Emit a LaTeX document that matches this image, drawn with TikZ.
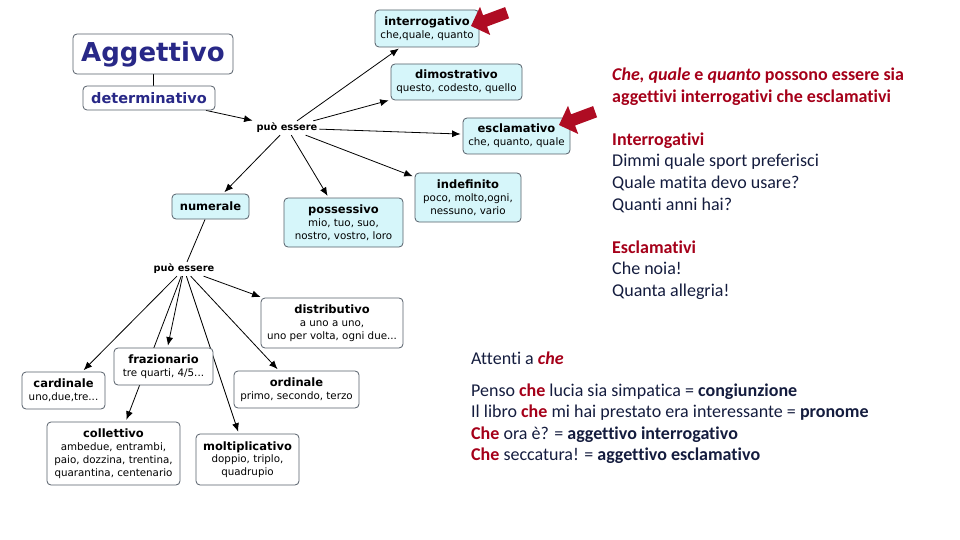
\documentclass[tikz,border=0pt]{standalone}
\usepackage{fontspec}
\setmainfont{Carlito}[Ligatures={NoCommon,NoRequired,NoContextual}]
\newfontfamily\dv{DejaVu Sans}
\usetikzlibrary{arrows.meta,backgrounds}
\definecolor{navy}{RGB}{20,28,62}
\definecolor{darkred}{RGB}{165,0,25}
\definecolor{arrred}{RGB}{175,12,35}
\definecolor{aggblue}{RGB}{40,40,135}
\definecolor{boxcyan}{RGB}{214,246,250}
\definecolor{boxline}{RGB}{85,95,105}
\newcommand\ttl[1]{{\bfseries\fontsize{11.5}{12.8}\selectfont #1}}
\tikzset{
  box/.style={draw=boxline, line width=0.8pt, rounded corners=4pt, fill=white,
    align=center, inner sep=0pt, font=\dv\fontsize{10.3}{12.8}\selectfont},
  cbox/.style={box, fill=boxcyan},
  pe/.style={font=\dv\bfseries\fontsize{9.8}{12}\selectfont, inner sep=2pt},
  arr/.style={-{Latex[length=8.5pt,width=7pt]}, line width=0.8pt, shorten >=2pt},
  ln/.style={line width=0.8pt},
  txt/.style={anchor=base west, inner sep=0pt, font=\fontsize{18}{21.5}\selectfont, text=navy},
  redtxt/.style={txt, text=darkred, font=\bfseries\fontsize{18}{21.5}\selectfont},
}
\begin{document}
\begin{tikzpicture}[x=1pt,y=-1pt]
\useasboundingbox (0,0) rectangle (960,540);
% left concept map
\node[box, minimum width=160pt, minimum height=40pt, text=aggblue,
  font=\dv\bfseries\fontsize{26}{30}\selectfont] (agg) at (153,54) {Aggettivo};
\node[box, minimum width=132pt, minimum height=24pt, text=aggblue,
  font=\dv\bfseries\fontsize{14.5}{17}\selectfont] (det) at (149,98) {determinativo};
\node[pe] (pe1) at (287,128) {può essere};
\node[cbox, minimum width=104pt, minimum height=37pt] (interr) at (427,28.5) {\ttl{interrogativo}\\che,quale, quanto};
\node[cbox, minimum width=131pt, minimum height=36pt] (dimo) at (456.5,82) {\ttl{dimostrativo}\\questo, codesto, quello};
\node[cbox, minimum width=107pt, minimum height=36pt] (escl) at (516.5,136) {\ttl{esclamativo}\\che, quanto, quale};
\node[cbox, minimum width=106pt, minimum height=49pt] (indef) at (468,197.5) {\ttl{indefinito}\\poco, molto,ogni,\\nessuno, vario};
\node[cbox, minimum width=119pt, minimum height=49pt] (poss) at (343.5,222.5) {\ttl{possessivo}\\mio, tuo, suo,\\nostro, vostro, loro};
\node[cbox, minimum width=77pt, minimum height=25pt] (num) at (210.5,206.5) {\ttl{numerale}};
\node[pe] (pe2) at (184,269) {può essere};
\node[box, minimum width=142pt, minimum height=50pt] (distr) at (332,323) {\ttl{distributivo}\\a uno a uno,\\uno per volta, ogni due...};
\node[box, minimum width=99pt, minimum height=37pt] (fraz) at (163.5,366.5) {\ttl{frazionario}\\tre quarti, 4/5...};
\node[box, minimum width=83pt, minimum height=37pt] (card) at (63.5,390.5) {\ttl{cardinale}\\uno,due,tre...};
\node[box, minimum width=125pt, minimum height=37pt] (ord) at (296.5,389.5) {\ttl{ordinale}\\primo, secondo, terzo};
\node[box, minimum width=133pt, minimum height=63pt] (coll) at (113.5,453.5) {\ttl{collettivo}\\ambedue, entrambi,\\paio, dozzina, trentina,\\quarantina, centenario};
\node[box, minimum width=103pt, minimum height=51pt] (molt) at (247.5,459.5) {\ttl{moltiplicativo}\\doppio, triplo,\\quadrupio};
\begin{scope}[on background layer]
  \draw[ln] (agg.south) -- (agg.south |- det.north);
  \draw[arr] (det) -- (pe1);
  \draw[arr] (pe1) -- (interr);
  \draw[arr] (pe1) -- (dimo);
  \draw[arr] (pe1) -- (escl);
  \draw[arr] (pe1) -- (indef);
  \draw[arr] (pe1) -- (poss);
  \draw[arr] (pe1) -- (num);
  \draw[ln] (num) -- (pe2);
  \draw[arr] (pe2) -- (distr);
  \draw[arr] (pe2) -- (card);
  \draw[arr] (pe2) -- (fraz);
  \draw[arr] (pe2) -- (coll);
  \draw[arr] (pe2) -- (molt);
  \draw[arr] (pe2) -- (ord);
\end{scope}
% red block arrows
\fill[arrred] (471,26) -- ++(19.2,9.0) -- ++(-3.1,-8.5) -- ++(22,-8.2) -- ++(-4,-11.2) -- ++(-22,8.2) -- ++(-3.1,-8.5) -- cycle;
\fill[arrred] (559,125) -- ++(19.2,9.0) -- ++(-3.1,-8.5) -- ++(22,-8.2) -- ++(-4,-11.2) -- ++(-22,8.2) -- ++(-3.1,-8.5) -- cycle;
% right text
\node[redtxt] (r1) at (612,81) {\textit{Che, quale} e \textit{quanto} possono essere sia};
\node[redtxt] (r2) at (612,102.5) {aggettivi interrogativi che esclamativi};
\node[redtxt] (r3) at (612,145.5) {Interrogativi};
\node[txt] (r4) at (612,167) {Dimmi quale sport preferisci};
\node[txt] (r5) at (612,188.5) {Quale matita devo usare?};
\node[txt] (r6) at (612,210) {Quanti anni hai?};
\node[redtxt] (r7) at (612,253) {Esclamativi};
\node[txt] (r8) at (612,274.5) {Che noia!};
\node[txt] (r9) at (612,296) {Quanta allegria!};
% bottom text
\node[txt] (b0) at (471,364) {Attenti a \textcolor{darkred}{\bfseries\itshape che}};
\node[txt] (b1) at (471,396) {Penso \textcolor{darkred}{\bfseries che} lucia sia simpatica = \textbf{congiunzione}};
\node[txt] (b2) at (471,417.5) {Il libro \textcolor{darkred}{\bfseries che} mi hai prestato era interessante = \textbf{pronome}};
\node[txt] (b3) at (471,439) {\textcolor{darkred}{\bfseries Che} ora è? = \textbf{aggettivo interrogativo}};
\node[txt] (b4) at (471,460.5) {\textcolor{darkred}{\bfseries Che} seccatura! = \textbf{aggettivo esclamativo}};
\end{tikzpicture}
\end{document}
